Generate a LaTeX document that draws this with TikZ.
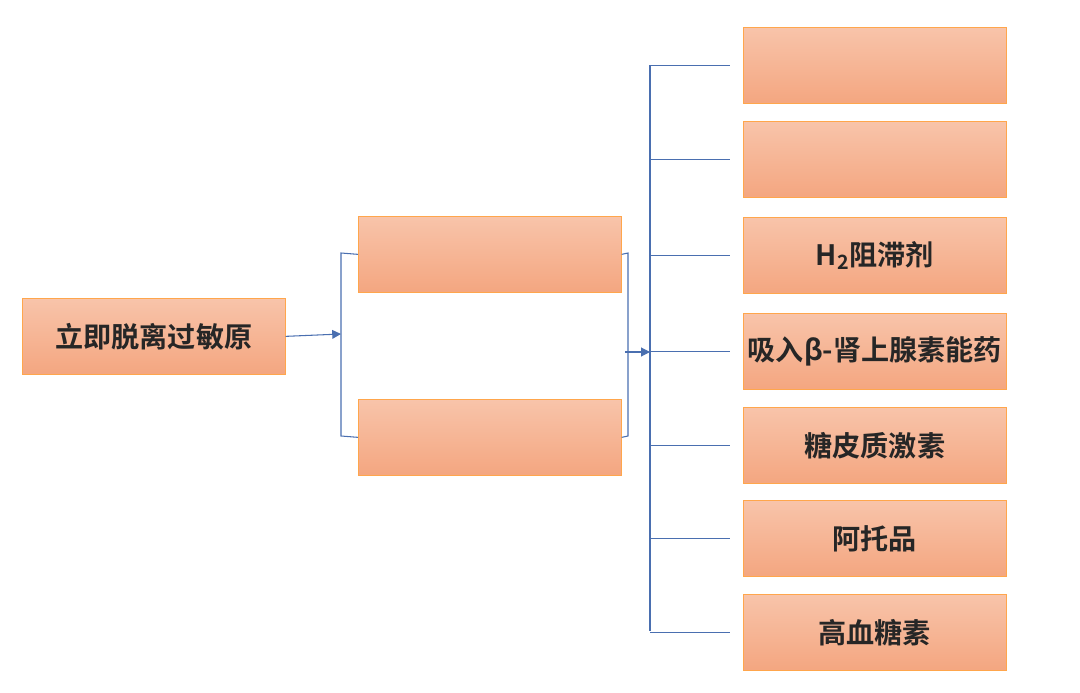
\documentclass[tikz,border=0pt]{standalone}
\usepackage{fontspec}
\newfontfamily\cjk{Noto Sans CJK SC}[BoldFont={* Bold}]
\usetikzlibrary{arrows.meta}
\definecolor{lc}{HTML}{4A6FB0}
\tikzset{
 box/.style={draw=orange!70!white,top color={rgb,255:red,248;green,196;blue,170},bottom color={rgb,255:red,244;green,166;blue,128},minimum width=263*0.02cm,minimum height=76*0.02cm,inner sep=0,font=\cjk\bfseries\fontsize{16}{18}\selectfont,text=black!85,anchor=north west},
 ln/.style={draw=lc,line width=0.6pt},
 ar/.style={ln,-{Triangle[length=5pt,width=5pt]}}
}
\begin{document}
\begin{tikzpicture}[x=0.02cm,y=-0.02cm]
\useasboundingbox (0,0) rectangle (1080,693);
\node[box] (L) at (22,298) {立即脱离过敏原};
\node[box] (M1) at (358,216) {};
\node[box] (M2) at (358,399) {};
\foreach \i/\y/\t in {1/27/{},2/121/{},3/217/{H\textsubscript{2}阻滞剂},4/313/{吸入β-肾上腺素能药},5/407/{糖皮质激素},6/500/{阿托品},7/594/{高血糖素}}{
 \node[box] (R\i) at (743,\y) {\t};
 \coordinate (E\i) at ([xshift=-13*0.02cm]R\i.west);
}
\coordinate (b1) at (341,253); \coordinate (b2) at (341,436);
\coordinate (j) at (341,334);
\draw[ar] (L.east) -- (j);
\draw[ln] (M1.west) -- (b1) -- (b2) -- (M2.west);
\coordinate (c1) at (628,253); \coordinate (c2) at (628,436);
\draw[ln] (M1.east) -- (c1) -- (c2) -- (M2.east);
\coordinate (d1) at (650,65); \coordinate (d2) at (650,631);
\draw[ln] (d1) -- (d2);
\coordinate (s) at (625,352); \coordinate (t) at (650,352);
\draw[ar] (s) -- (t);
\foreach \i in {1,...,7}{ \draw[ln] (E\i -| d1) -- (E\i); }
\end{tikzpicture}
\end{document}
